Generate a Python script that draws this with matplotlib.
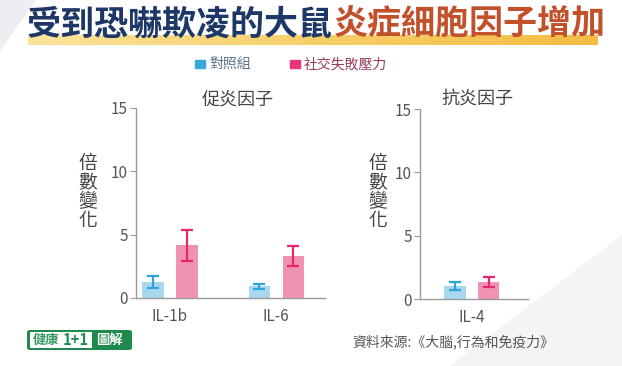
import matplotlib
matplotlib.use("Agg")
import matplotlib.pyplot as plt
import matplotlib.patches as mpatches
import numpy as np

plt.rcParams["font.family"] = ["Noto Sans CJK TC", "DejaVu Sans"]

# data
pro_labels = ["IL-1b", "IL-6"]
pro_ctrl = [1.26, 0.94]
pro_ctrl_err = [0.47, 0.2]
pro_stress = [4.15, 3.3]
pro_stress_err = [1.2, 0.8]

anti_labels = ["IL-4"]
anti_ctrl = [1.03]
anti_ctrl_err = [0.3]
anti_stress = [1.35]
anti_stress_err = [0.4]

series_names = ["對照組", "社交失敗壓力"]
yticks = [0, 5, 10, 15]

BLUE_BAR = "#a9d7ee"
BLUE_ERR = "#2ba6dc"
PINK_BAR = "#ee93b1"
PINK_ERR = "#e6266d"
TEXT = "#555555"
GREEN = "#1e8a4c"
W, H = 622, 366


def px(x0, y0, x1, y1):
    # pixel box (top-left origin) -> figure fraction rect
    return [x0 / W, 1 - y1 / H, (x1 - x0) / W, (y1 - y0) / H]


def fx(x):
    return x / W


def fy(y):
    return 1 - y / H


fig = plt.figure(figsize=(W / 100, H / 100), dpi=100)
fig.patch.set_facecolor("white")

# faint background shapes
fig.add_artist(mpatches.Polygon([[fx(450), 0], [1, 0], [1, fy(235)]], closed=True,
                                transform=fig.transFigure, color="#f4f4f4", zorder=0))
fig.add_artist(mpatches.Polygon([[0, 1], [fx(35), 1], [0, fy(50)]], closed=True,
                                transform=fig.transFigure, color="#eeeef2", zorder=0))

# title underline band
band = fig.add_axes(px(28, 35, 598, 45))
grad = np.linspace(0, 1, 100).reshape(1, -1)
band.imshow(grad, aspect="auto", cmap=matplotlib.colors.LinearSegmentedColormap.from_list(
    "b", ["#fbe39a", "#f6cf6a", "#f3bd45"]), extent=[0, 1, 0, 1])
band.axis("off")

t1 = fig.text(fx(27), fy(24), "受到恐嚇欺凌的大鼠", fontsize=24.5, fontweight="bold",
              color="#1d3767", ha="left", va="center")
fig.canvas.draw()
bb = t1.get_window_extent()
fig.text(bb.x1 / W + fx(1), fy(24), "炎症細胞因子增加", fontsize=24.5, fontweight="bold",
         color="#c2502b", ha="left", va="center")

# legend
fig.add_artist(mpatches.Rectangle((fx(195), fy(68)), fx(10), 8 / H,
                                  transform=fig.transFigure, color="#3aa8d8"))
fig.text(fx(209), fy(64), series_names[0], fontsize=10, color="#5a7486", va="center")
fig.add_artist(mpatches.Rectangle((fx(290), fy(68)), fx(10), 8 / H,
                                  transform=fig.transFigure, color="#e8357a"))
fig.text(fx(304), fy(64), series_names[1], fontsize=10, color="#9a3a5e", va="center")


def draw_panel(ax, labels, ctrl, ctrl_err, stress, stress_err, xlim):
    x = np.arange(len(labels))
    off, bw = 0.16, 0.2
    ax.bar(x - off, ctrl, bw, color=BLUE_BAR)
    ax.bar(x + off, stress, bw, color=PINK_BAR)
    ax.errorbar(x - off, ctrl, yerr=ctrl_err, fmt="none", ecolor=BLUE_ERR,
                elinewidth=1.6, capsize=4.5, capthick=1.6)
    ax.errorbar(x + off, stress, yerr=stress_err, fmt="none", ecolor=PINK_ERR,
                elinewidth=1.6, capsize=4.5, capthick=1.6)
    ax.set_xlim(*xlim)
    ax.set_ylim(0, 15)
    ax.set_yticks(yticks)
    ax.set_xticks(x)
    ax.set_xticklabels(labels)
    for s in ["top", "right"]:
        ax.spines[s].set_visible(False)
    for s in ["left", "bottom"]:
        ax.spines[s].set_color("#9a9a9a")
        ax.spines[s].set_linewidth(1.0)
    ax.tick_params(axis="y", colors="#9a9a9a", labelcolor=TEXT, labelsize=11,
                   length=4, pad=2)
    ax.tick_params(axis="x", length=0, labelcolor=TEXT, labelsize=11, pad=7)
    ax.set_facecolor("none")


ax1 = fig.add_axes(px(136, 108, 325, 298))
draw_panel(ax1, pro_labels, pro_ctrl, pro_ctrl_err, pro_stress, pro_stress_err,
           (-0.32, 1.46))
fig.text(fx(238), fy(100), "促炎因子", fontsize=13, color="#444444",
         ha="center", va="center")
fig.text(fx(88), fy(192), "倍\n數\n變\n化", fontsize=13.5, color="#444444",
         ha="center", va="center", linespacing=0.88)

ax2 = fig.add_axes(px(420, 109, 528, 299))
draw_panel(ax2, anti_labels, anti_ctrl, anti_ctrl_err, anti_stress, anti_stress_err,
           (-0.49, 0.53))
fig.text(fx(477), fy(100), "抗炎因子", fontsize=13, color="#444444",
         ha="center", va="center")
fig.text(fx(378), fy(192), "倍\n數\n變\n化", fontsize=13.5, color="#444444",
         ha="center", va="center", linespacing=0.88)

# logo
fig.add_artist(mpatches.FancyBboxPatch((fx(27), fy(350)), fx(105), 20 / H,
                                       boxstyle="round,pad=0,rounding_size=0.006",
                                       transform=fig.transFigure, facecolor=GREEN,
                                       edgecolor="none"))
fig.add_artist(mpatches.Rectangle((fx(30), fy(348)), fx(62), 16 / H,
                                  transform=fig.transFigure, facecolor="white"))
fig.text(fx(46), fy(340), "健康", fontsize=9.5, color="#3a9a62", ha="center",
         va="center", fontweight="bold")
fig.text(fx(76), fy(340), "1+1", fontsize=10.5, color=GREEN, ha="center",
         va="center", fontweight="bold")
fig.text(fx(109), fy(340), "圖解", fontsize=9.5, color="white", ha="center",
         va="center", fontweight="bold")

fig.text(fx(352), fy(342), "資料來源:《大腦,行為和免疫力》", fontsize=10,
         color=TEXT, ha="left", va="center")

plt.savefig("out.png", dpi=100)
